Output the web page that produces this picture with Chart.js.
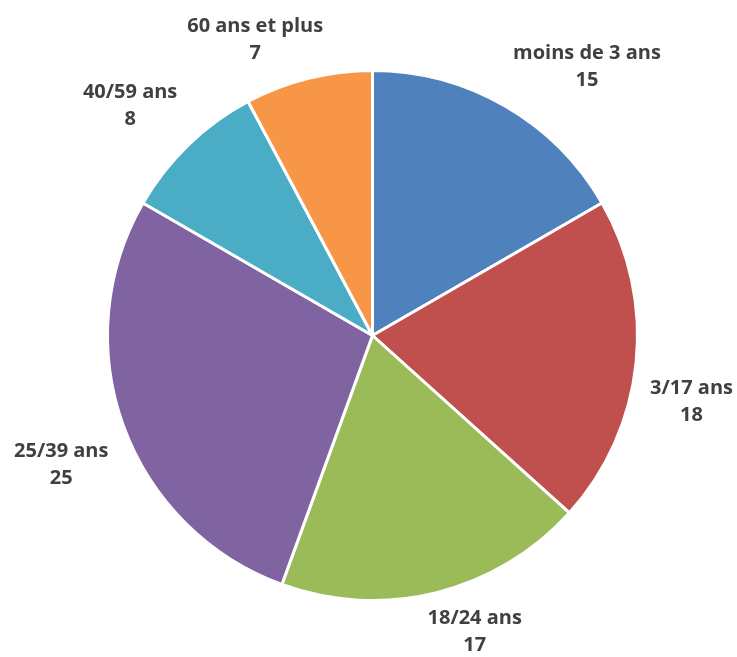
<!DOCTYPE html>
<html>
<head>
<meta charset="utf-8">
<script src="https://cdn.jsdelivr.net/npm/chart.js@4/dist/chart.umd.min.js"></script>
<style>
  html, body { margin: 0; padding: 0; background: #ffffff; }
  #wrap { width: 737px; height: 657px; }
</style>
</head>
<body>
<div id="wrap"><canvas id="pieChart" width="737" height="657"></canvas></div>
<script>
// tranches d'age et effectifs
const categories = ["moins de 3 ans", "3/17 ans", "18/24 ans", "25/39 ans", "40/59 ans", "60 ans et plus"];
const values = [15, 18, 17, 25, 8, 7];
const sliceColors = ["#4F81BD", "#C0504D", "#9BBB59", "#8064A2", "#4BACC6", "#F79646"];

// etiquettes dehors, nom + valeur sur deux lignes (a la maniere d'Excel)
const outsideLabels = {
  id: "outsideLabels",
  afterDatasetsDraw(chart) {
    const ctx = chart.ctx;
    const meta = chart.getDatasetMeta(0);
    const lineH = 27;
    const gapX = 16, gapY = 12, k = 3, margin = 4;
    ctx.save();
    ctx.font = "bold 20px 'Open Sans', sans-serif";
    ctx.fillStyle = "#404040";
    ctx.textAlign = "center";
    ctx.textBaseline = "middle";
    meta.data.forEach(function (arc, i) {
      const p = arc.getProps(["x", "y", "startAngle", "endAngle", "outerRadius"], true);
      const mid = (p.startAngle + p.endAngle) / 2;
      const ux = Math.cos(mid), uy = Math.sin(mid);
      const lines = [categories[i], String(values[i])];
      const w = Math.max(...lines.map((l) => ctx.measureText(l).width));
      const h = lineH * lines.length;
      // point du bord a mi-angle
      const px = p.x + p.outerRadius * ux;
      const py = p.y + p.outerRadius * uy;
      const fx = Math.max(-1, Math.min(1, ux * k));
      let cx = px + fx * (w / 2) + ux * gapX;
      // rester dans le canvas
      cx = Math.min(Math.max(cx, w / 2 + margin), chart.width - w / 2 - margin);
      const cy = py + Math.sign(uy) * (h / 2 + gapY);
      lines.forEach(function (l, j) {
        ctx.fillText(l, cx, cy - h / 2 + lineH * (j + 0.5));
      });
    });
    ctx.restore();
  }
};

const ctx = document.getElementById("pieChart").getContext("2d");
new Chart(ctx, {
  type: "pie",
  data: {
    labels: categories,
    datasets: [{
      data: values,
      backgroundColor: sliceColors,
      borderColor: "#ffffff",
      borderWidth: 3
    }]
  },
  options: {
    responsive: false,
    animation: false,
    devicePixelRatio: 1,
    layout: { padding: { left: 106, right: 98, top: 69, bottom: 55 } },
    plugins: {
      legend: { display: false },
      tooltip: { enabled: false }
    }
  },
  plugins: [outsideLabels]
});
</script>
</body>
</html>
